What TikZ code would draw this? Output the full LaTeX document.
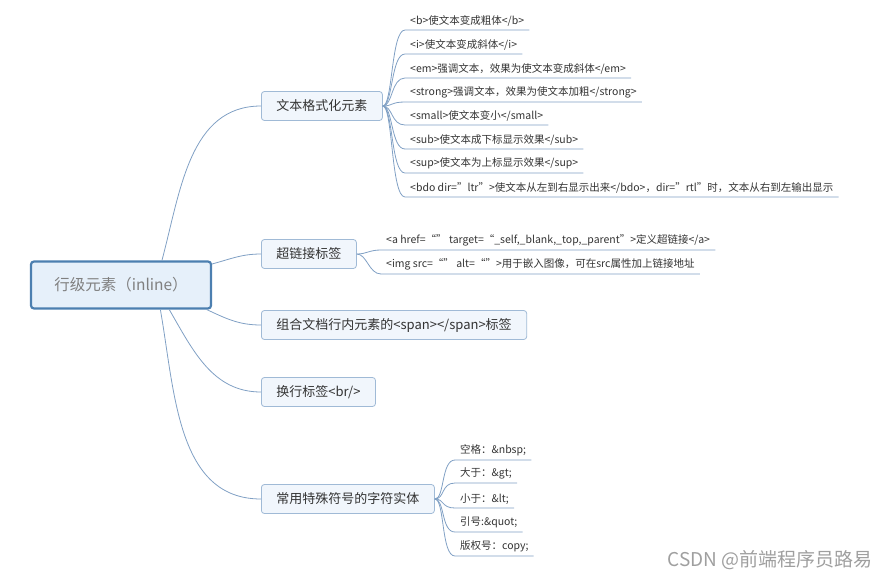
\documentclass[tikz,border=0pt]{standalone}
\usepackage{fontspec}
\setmainfont{Noto Sans CJK SC}

\definecolor{linkblue}{RGB}{128,160,196}
\definecolor{rootedge}{RGB}{76,127,176}
\definecolor{rootfill}{RGB}{230,240,250}
\definecolor{boxedge}{RGB}{160,186,214}
\definecolor{boxfill}{RGB}{241,246,252}
\definecolor{inktext}{RGB}{51,51,51}

\begin{document}
\begin{tikzpicture}[x=1pt, y=-1pt,
    root/.style={draw=rootedge, line width=2.2pt, fill=rootfill, rounded corners=3pt,
        minimum width=180pt, minimum height=47pt, font=\fontsize{15.5}{18}\selectfont, text=gray},
    branch/.style={draw=boxedge, line width=0.8pt, fill=boxfill, rounded corners=3pt,
        minimum height=29pt, inner xsep=15pt, anchor=west, font=\fontsize{13}{15}\selectfont, text=inktext},
    leaf/.style={anchor=south west, inner xsep=5pt, inner ysep=3.5pt,
        font=\fontsize{10.5}{12}\selectfont, text=inktext},
    link/.style={draw=linkblue, line width=0.8pt}]
    \useasboundingbox (0,0) rectangle (890,580);

    % The root of the map
    \node[root] (root) at (121,285) {行级元素（inline）};

    % First level
    \node[branch] (fmt)  at (261,106) {文本格式化元素};
    \node[branch] (href) at (261,254) {超链接标签};
    \node[branch] (span) at (261,325) {组合文档行内元素的<span></span>标签};
    \node[branch] (br)   at (261,392) {换行标签<br/>};
    \node[branch] (ent)  at (261,499) {常用特殊符号的字符实体};

    \draw[link] (root.31)  to[out=75,  in=180] (fmt.west);
    \draw[link] (root.13)  to[out=15,  in=180] (href.west);
    \draw[link] (root.-16) to[out=-25, in=180] (span.west);
    \draw[link] (root.-27) to[out=-60, in=180] (br.west);
    \draw[link] (root.-32) to[out=-80, in=180] (ent.west);

    % Text formatting tags
    \node[leaf] (fmt1) at (405,30)  {<b>使文本变成粗体</b>};
    \node[leaf] (fmt2) at (405,54)  {<i>使文本变成斜体</i>};
    \node[leaf] (fmt3) at (405,78)  {<em>强调文本，效果为使文本变成斜体</em>};
    \node[leaf] (fmt4) at (405,102) {<strong>强调文本，效果为使文本加粗</strong>};
    \node[leaf] (fmt5) at (405,125) {<small>使文本变小</small>};
    \node[leaf] (fmt6) at (405,149) {<sub>使文本成下标显示效果</sub>};
    \node[leaf] (fmt7) at (405,173) {<sup>使文本为上标显示效果</sup>};
    \node[leaf] (fmt8) at (405,197) {<bdo dir="ltr">使文本从左到右显示出来</bdo>，dir="rtl"时，文本从右到左输出显示};
    \foreach \n in {fmt1,fmt2,fmt3,fmt4,fmt5,fmt6,fmt7,fmt8}
        \draw[link] (fmt.east) .. controls +(10,0) and +(-14,0) .. (\n.south west) -- (\n.south east);

    % Link tags
    \node[leaf] (href1) at (381,250) {<a href=“”  target=“\_self,\_blank,\_top,\_parent”>定义超链接</a>};
    \node[leaf] (href2) at (381,274) {<img src=“”  alt=“”>用于嵌入图像，可在src属性加上链接地址};
    \foreach \n in {href1,href2}
        \draw[link] (href.east) .. controls +(10,0) and +(-12,0) .. (\n.south west) -- (\n.south east);

    % Character entities
    \node[leaf] (ent1) at (455,460) {空格：\&nbsp;};
    \node[leaf] (ent2) at (455,483) {大于：\&gt;};
    \node[leaf] (ent3) at (455,508) {小于：\&lt;};
    \node[leaf] (ent4) at (455,532) {引号:\&quot;};
    \node[leaf] (ent5) at (455,556) {版权号：copy;};
    \foreach \n in {ent1,ent2,ent3,ent4,ent5}
        \draw[link] (ent.east) .. controls +(10,0) and +(-14,0) .. (\n.south west) -- (\n.south east);

    \node[anchor=east, text=gray!75, font=\fontsize{19}{22}\selectfont] (mark) at (876,560) {CSDN @前端程序员路易};
\end{tikzpicture}
\end{document}
